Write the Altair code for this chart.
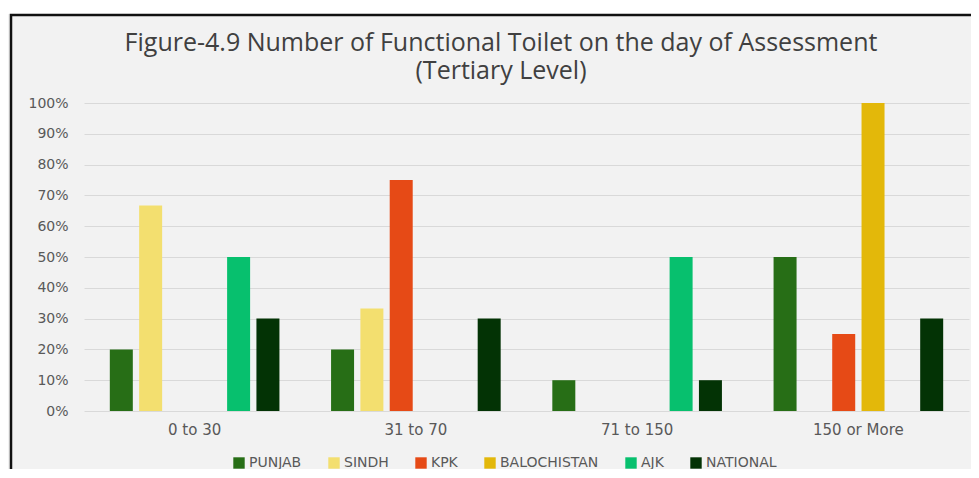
import altair as alt
import pandas as pd

categories = ["0 to 30", "31 to 70", "71 to 150", "150 or More"]
regions = ["PUNJAB", "SINDH", "KPK", "BALOCHISTAN", "AJK", "NATIONAL"]
colors = ["#276e16", "#f3df6f", "#e64a16", "#e3b80a", "#07c06e", "#033305"]

punjab = [0.20, 0.20, 0.10, 0.50]
sindh = [0.667, 0.333, 0.0, 0.0]
kpk = [0.0, 0.75, 0.0, 0.25]
balochistan = [0.0, 0.0, 0.0, 1.00]
ajk = [0.50, 0.0, 0.50, 0.0]
national = [0.30, 0.30, 0.10, 0.30]

title_line1 = "Figure-4.9 Number of Functional Toilet on the day of Assessment"
title_line2 = "(Tertiary Level)"

series = [punjab, sindh, kpk, balochistan, ajk, national]
rows = []
for reg, vals in zip(regions, series):
    for cat, v in zip(categories, vals):
        rows.append({"category": cat, "region": reg, "value": v})
df = pd.DataFrame(rows)

TFONT = "Open Sans"
FONT = "DejaVu Sans"
TXT = "#595959"

one = pd.DataFrame({"k": [0]})

strip = alt.Chart(one).mark_rect(fill="white", strokeWidth=0).encode(
    x=alt.value(-76), x2=alt.value(895),
    y=alt.value(-95), y2=alt.value(-89)
)

frame = alt.Chart(one).mark_rect(
    fillOpacity=0, stroke="#111111", strokeWidth=2.5
).encode(
    x=alt.value(-73), x2=alt.value(891),
    y=alt.value(-88), y2=alt.value(373)
)

title1 = alt.Chart(one).mark_text(
    font=TFONT, fontSize=25, color="#404040", align="center", baseline="middle"
).encode(x=alt.value(417), y=alt.value(-60), text=alt.value(title_line1))

title2 = alt.Chart(one).mark_text(
    font=TFONT, fontSize=25, color="#404040", align="center", baseline="middle"
).encode(x=alt.value(417), y=alt.value(-32), text=alt.value(title_line2))

bars = alt.Chart(df).mark_bar(size=23).encode(
    x=alt.X("category:N", sort=categories, title=None,
            scale=alt.Scale(paddingInner=0, paddingOuter=0),
            axis=alt.Axis(labelAngle=0, labelFontSize=15, labelColor=TXT,
                          labelFont=FONT, ticks=False, domain=False,
                          labelPadding=11)),
    xOffset=alt.XOffset("region:N", sort=regions,
                        scale=alt.Scale(paddingInner=0.215, paddingOuter=0.88)),
    y=alt.Y("value:Q", title=None,
            scale=alt.Scale(domain=[0, 1]),
            axis=alt.Axis(format=".0%", values=[i / 10 for i in range(11)],
                          labelFontSize=14, labelColor=TXT, labelFont=FONT,
                          ticks=False, domain=False, labelPadding=16,
                          gridColor="#d9d9d9", gridWidth=1.2)),
    color=alt.Color("region:N", sort=regions,
                    scale=alt.Scale(domain=regions, range=colors),
                    legend=alt.Legend(title=None, orient="none",
                                      direction="horizontal",
                                      legendX=148, legendY=353,
                                      symbolType="square", symbolSize=130,
                                      symbolStrokeWidth=0,
                                      labelFontSize=14, labelColor=TXT,
                                      labelFont=FONT, columnPadding=25,
                                      labelOffset=3))
)

chart = alt.layer(bars, strip, frame, title1, title2).properties(
    width=885, height=308,
    autosize=alt.AutoSizeParams(type="none"),
    padding={"left": 76, "top": 95, "right": 2, "bottom": 58},
    background="#f2f2f2",
).configure_view(stroke=None)

chart.save("out.html", embed_options={"renderer": "svg", "actions": False})
